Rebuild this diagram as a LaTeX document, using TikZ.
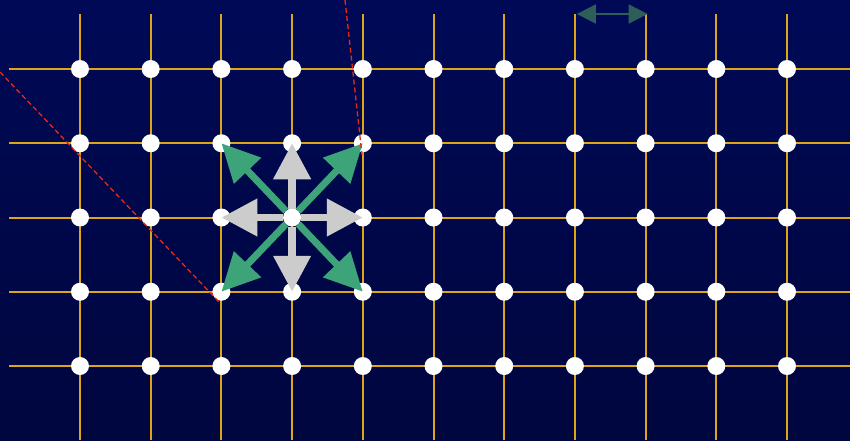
\documentclass[tikz,border=0pt]{standalone}
\usetikzlibrary{arrows.meta}
\definecolor{navytop}{RGB}{0,9,86}
\definecolor{navybot}{RGB}{0,6,62}
\definecolor{gridgold}{RGB}{222,166,22}
\definecolor{arrowgray}{RGB}{204,204,204}
\definecolor{arrowgreen}{RGB}{60,164,120}
\definecolor{spanteal}{RGB}{46,94,88}
\definecolor{wavered}{RGB}{235,40,20}
\begin{document}
\begin{tikzpicture}
        [ x=1pt, y=-1pt
        , gridline/.style={gridgold, line width=2pt}
        , dot/.style={circle, fill=white, inner sep=0pt, minimum size=18pt}
        , axisarrow/.style={arrowgray, line width=7.5pt, shorten <=9pt, -{Triangle[width=36pt,length=36pt]}}
        , diagarrow/.style={arrowgreen, line width=7pt, shorten <=9pt, -{Triangle[width=36pt,length=38pt]}}
        , spanarrow/.style={spanteal, line width=2pt, {Triangle[width=19pt,length=19pt]}-{Triangle[width=19pt,length=19pt]}}
        , wave/.style={wavered, line width=1.3pt, dash pattern=on 5pt off 3pt}
        ]
                \shade[top color=navytop, bottom color=navybot] (0,0) rectangle (850,440);
                \useasboundingbox (0,0) rectangle (850,440);
                % lattice
                \foreach \i in {1,...,11}{
                    \coordinate (top-\i) at ({80+70.7*(\i-1)},14);
                    \draw[gridline] (top-\i) -- ++(0,426);
                }
                \foreach \j in {1,...,5}
                    \draw[gridline] (9,{69+74.25*(\j-1)}) -- (850,{69+74.25*(\j-1)});
                \foreach \i in {1,...,11}
                    \foreach \j in {1,...,5}
                        \node[dot] (d-\i-\j) at ({80+70.7*(\i-1)},{69+74.25*(\j-1)}) {};
                % neighbours of the centre site
                \foreach \a/\b in {4/2, 4/4, 3/3, 5/3}
                    \draw[axisarrow] (d-4-3.center) -- (d-\a-\b.center);
                \foreach \a/\b in {3/2, 5/2, 3/4, 5/4}
                    \draw[diagarrow] (d-4-3.center) -- (d-\a-\b.center);
                % spacing
                \draw[spanarrow] ([xshift=2pt]top-8) -- ([xshift=2pt]top-9);
                % wave fronts
                \coordinate (w1a) at (0,72);
                \coordinate (w1b) at (220,303);
                \coordinate (w2a) at (345,0);
                \coordinate (w2b) at (362,155);
                \draw[wave] (w1a) -- (w1b);
                \draw[wave] (w2a) -- (w2b);
\end{tikzpicture}
\end{document}
